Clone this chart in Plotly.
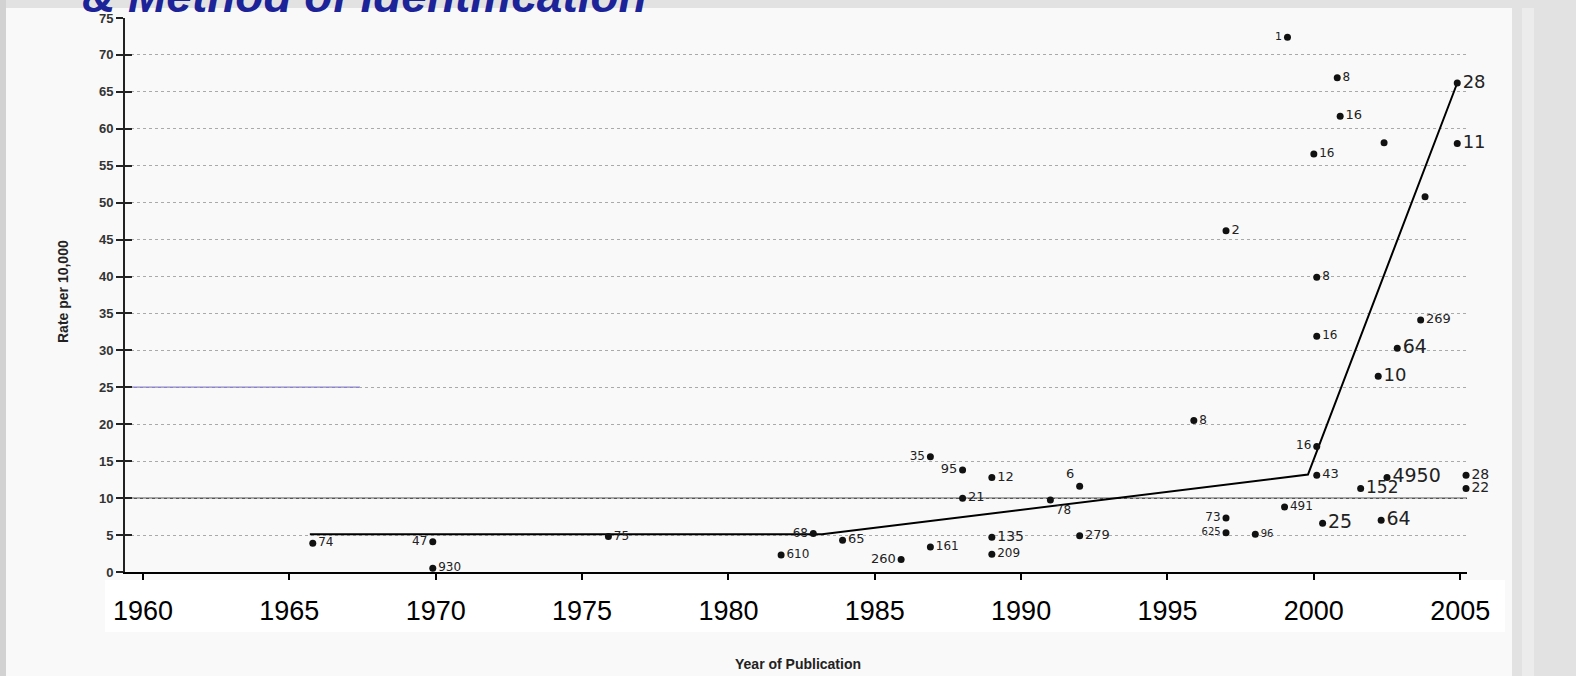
import plotly.graph_objects as go

# ---------------- data ----------------
years = [1965.8, 1969.9, 1969.9, 1975.9, 1981.8, 1982.9, 1983.9, 1985.9, 1986.9, 1986.9,
         1988.0, 1988.0, 1989.0, 1989.0, 1989.0, 1991.0, 1992.0, 1992.0, 1995.9, 1997.0,
         1997.0, 1997.0, 1998.0, 1999.0, 1999.1, 2000.0, 2000.1, 2000.1, 2000.1, 2000.1,
         2000.3, 2000.8, 2000.9, 2001.6, 2002.2, 2002.3, 2002.4, 2002.5, 2002.85, 2003.65,
         2003.8, 2004.9, 2004.9, 2005.2, 2005.2]
rates = [3.9, 4.1, 0.5, 4.8, 2.3, 5.2, 4.3, 1.7, 3.4, 15.6,
         13.8, 10.0, 12.8, 4.7, 2.4, 9.75, 11.6, 4.9, 20.5, 7.3,
         5.3, 46.2, 5.1, 8.8, 72.4, 56.6, 39.9, 31.9, 17.0, 13.1,
         6.6, 66.9, 61.7, 11.3, 26.5, 7.0, 58.1, 12.8, 30.3, 34.1,
         50.8, 66.2, 58.0, 13.1, 11.3]
labels = ["74", "47", "930", "75", "610", "68", "65", "260", "161", "35",
          "95", "21", "12", "135", "209", "78", "6", "279", "8", "73",
          "625", "2", "96", "491", "1", "16", "8", "16", "16", "43",
          "25", "8", "16", "152", "10", "64", "", "4950", "64", "269",
          "", "28", "11", "28", "22"]

trend_years = [1965.7, 1983.2, 1999.8, 2004.9]
trend_rates = [5.1, 5.1, 13.2, 66.2]

year_ticks = [1960, 1965, 1970, 1975, 1980, 1985, 1990, 1995, 2000, 2005]
rate_ticks = [0, 5, 10, 15, 20, 25, 30, 35, 40, 45, 50, 55, 60, 65, 70, 75]

# ---------------- styling ----------------
R_, L_ = "middle right", "middle left"
label_pos = [R_, L_, R_, R_, R_, L_, R_, L_, R_, L_,
             L_, R_, R_, R_, R_, "bottom right", "top left", R_, R_, L_,
             L_, R_, R_, R_, L_, R_, R_, R_, L_, R_,
             R_, R_, R_, R_, R_, R_, R_, R_, R_, R_,
             R_, R_, R_, R_, R_]
label_size = [12, 12, 12, 12, 12, 12, 13, 13, 12, 12,
              13, 13, 13, 14, 12, 12, 13, 13, 12, 12,
              10, 13, 10, 12, 11, 12, 12, 12, 12, 13,
              19, 12, 13, 17, 18, 19, 12, 19, 19, 13,
              12, 18, 18, 14, 14]

W, H = 1576, 676
ML, MR, MT, MB = 125, 109, 18, 104
X_RANGE = [1959.385, 2005.233]


def pxx(p):
    return (p - ML) / (W - ML - MR)


def pxy(p):
    return (H - MB - p) / (H - MT - MB)


fig = go.Figure()

fig.add_trace(go.Scatter(
    x=trend_years, y=trend_rates, mode="lines",
    line=dict(color="black", width=2), hoverinfo="skip", showlegend=False,
))
fig.add_trace(go.Scatter(
    x=years, y=rates, mode="markers+text", text=labels,
    textposition=label_pos,
    textfont=dict(family="DejaVu Sans", size=label_size, color="#222"),
    marker=dict(size=7, color="#111"), cliponaxis=False, showlegend=False,
))
fig.add_trace(go.Scatter(x=[None], y=[None], yaxis="y2", showlegend=False,
                         hoverinfo="skip"))

shapes = [
    dict(type="rect", xref="paper", yref="paper", x0=pxx(0), x1=pxx(W), y0=pxy(H), y1=pxy(0),
         fillcolor="#e2e2e2", line=dict(width=0), layer="below"),
    dict(type="rect", xref="paper", yref="paper", x0=pxx(0), x1=pxx(6), y0=pxy(H), y1=pxy(0),
         fillcolor="#d2d2d2", line=dict(width=0), layer="below"),
    dict(type="rect", xref="paper", yref="paper", x0=pxx(1522), x1=pxx(1534), y0=pxy(H), y1=pxy(8),
         fillcolor="#ececec", line=dict(width=0), layer="below"),
    dict(type="rect", xref="paper", yref="paper", x0=pxx(6), x1=pxx(1512), y0=pxy(H), y1=pxy(8),
         fillcolor="#f9f9f9", line=dict(width=0), layer="below"),
    dict(type="rect", xref="paper", yref="paper", x0=pxx(105), x1=pxx(1505), y0=pxy(632), y1=pxy(580),
         fillcolor="#ffffff", line=dict(width=0), layer="below"),
    dict(type="line", xref="paper", yref="y", x0=0, x1=1, y0=10, y1=10,
         line=dict(color="#555", width=1.5), layer="below"),
    dict(type="line", xref="paper", yref="y", x0=0, x1=pxx(360), y0=25, y1=25,
         line=dict(color="#8a80d8", width=1.5), layer="below"),
]

annotations = [
    dict(text="<b><i>&amp; Method of Identification</i></b>", xref="paper", yref="paper",
         x=pxx(80), y=pxy(24), xanchor="left", yanchor="bottom", showarrow=False,
         font=dict(family="Liberation Sans, Arial", size=46, color="#1c2399")),
    dict(text="<b>Rate per 10,000</b>", xref="paper", yref="paper", x=pxx(63), y=pxy(292),
         xanchor="center", yanchor="middle", textangle=-90, showarrow=False,
         font=dict(family="Liberation Sans, Arial", size=14, color="#222")),
    dict(text="<b>Year of Publication</b>", xref="paper", yref="paper", x=pxx(798), y=pxy(674),
         xanchor="center", yanchor="bottom", showarrow=False,
         font=dict(family="Liberation Sans, Arial", size=14, color="#222")),
]

fig.update_layout(
    width=W, height=H,
    margin=dict(l=ML, r=MR, t=MT, b=MB, autoexpand=False),
    paper_bgcolor="#e2e2e2", plot_bgcolor="rgba(0,0,0,0)",
    showlegend=False,
    shapes=shapes, annotations=annotations,
    xaxis=dict(
        range=X_RANGE, tickmode="array", tickvals=year_ticks,
        ticktext=[str(v) for v in year_ticks], automargin=False,
        showgrid=False, zeroline=False,
        showline=True, linecolor="black", linewidth=2,
        ticks="outside", ticklen=6, tickwidth=2, tickcolor="black",
        ticklabelstandoff=8,
        tickfont=dict(family="Liberation Sans, Arial", size=27, color="black"),
    ),
    yaxis=dict(
        range=[0, 75], tickmode="array", tickvals=rate_ticks, automargin=False,
        showgrid=True, gridcolor="#aaaaaa", griddash="dot", gridwidth=1,
        zeroline=False,
        showline=True, linecolor="#222", linewidth=2,
        ticks="outside", ticklen=7, tickwidth=1.5, tickcolor="#222",
        tickfont=dict(family="Liberation Sans, Arial", size=13, color="#333", weight="bold"),
    ),
    yaxis2=dict(
        range=[0, 75], overlaying="y", side="left", anchor="x", automargin=False,
        tickmode="array", tickvals=rate_ticks,
        ticks="inside", ticklen=7, tickwidth=1.5, tickcolor="#222",
        showticklabels=False, showgrid=False, zeroline=False, showline=False,
    ),
)

fig.write_html(
    "out.html",
    config=dict(displayModeBar=False),
    post_script="document.body.style.margin='0';document.body.style.overflow='hidden';",
)
